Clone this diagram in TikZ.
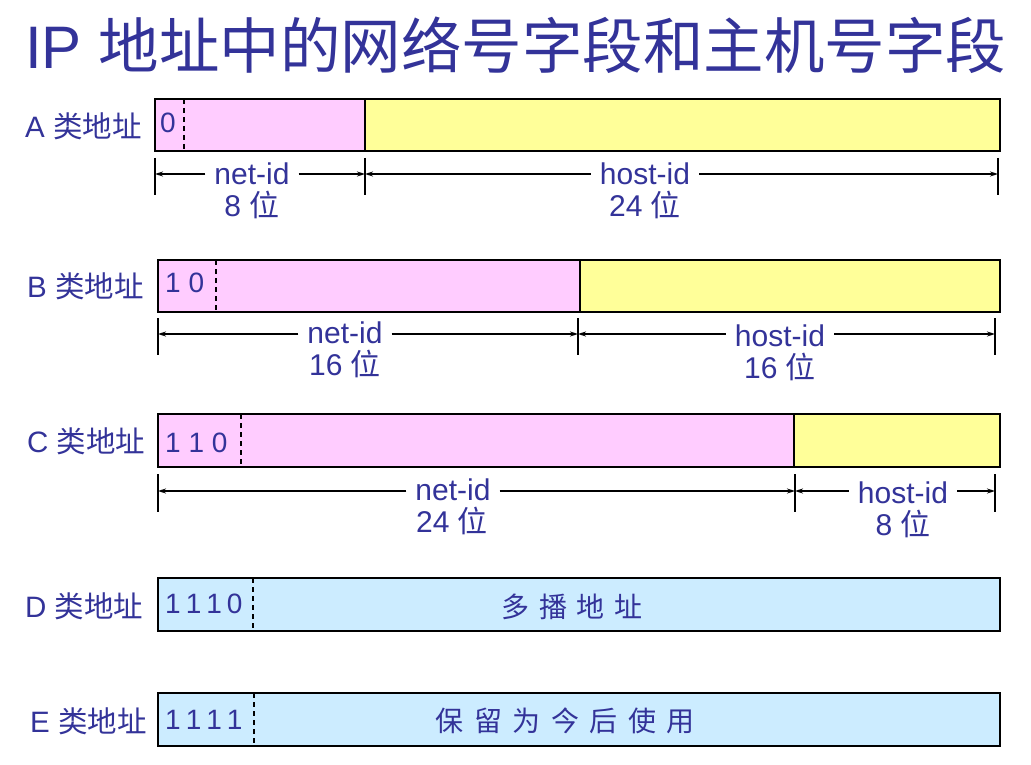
\documentclass[tikz,border=0pt]{standalone}
\usepackage{fontspec}
\setmainfont{Liberation Sans}
\newfontfamily\cjk{Noto Sans CJK SC}
\usetikzlibrary{arrows.meta}
\definecolor{txt}{HTML}{333399}
\definecolor{netc}{HTML}{FFCCFF}
\definecolor{hostc}{HTML}{FFFF99}
\definecolor{mcc}{HTML}{CCECFF}
\begin{document}
\begin{tikzpicture}[x=1pt,y=-1pt,
  lbl/.style={text=txt,font=\fontsize{29.5}{30}\selectfont,inner sep=0pt,anchor=base west},
  bits/.style={text=txt,font=\fontsize{28}{28}\selectfont,inner sep=0pt,anchor=base west},
  dimtxt/.style={text=txt,font=\fontsize{30}{30}\selectfont,inner xsep=9pt,inner ysep=0pt,anchor=base},
  field/.style={draw=black,line width=2.5pt},
  sepline/.style={draw=black,line width=1.5pt},
  dsh/.style={draw=black,line width=1.8pt,dash pattern=on 5pt off 4pt},
  tickline/.style={draw=black,line width=1.8pt},
  dim/.style={draw=black,line width=1.4pt,-{Stealth[length=8pt,width=5pt]}}
]
\useasboundingbox (0,0) rectangle (1031,765);
\fill[white] (0,0) rectangle (1031,765);

% title
\node[anchor=base west,text=txt,inner sep=0pt,font=\fontsize{60}{60}\selectfont] (title) at (25,69)
  {IP {\cjk\fontsize{60.5}{60.5}\selectfont 地址中的网络号字段和主机号字段}};

% ---------- A ----------
\fill[netc] (155,99) rectangle (365,151);
\fill[hostc] (365,99) rectangle (1000,151);
\draw[sepline] (365,99) -- (365,151);
\draw[dsh] (184,99) -- (184,151);
\draw[field] (155,99) rectangle (1000,151);
\node[lbl] (Alab) at (25,138) {A {\cjk 类地址}};
\node[bits] (Abits) at (160,133) {0};
\coordinate (A0) at (155,174);
\coordinate (A1) at (365,174);
\coordinate (A2) at (998,174);
\draw[tickline] (155,158) -- (155,195);
\draw[tickline] (365,158) -- (365,195);
\draw[tickline] (998,158) -- (998,195);
\node[dimtxt] (Anet) at (252,185) {net-id};
\node[dimtxt] (Anetb) at (252,216) {8 {\cjk 位}};
\node[dimtxt] (Ahost) at (645,185) {host-id};
\node[dimtxt] (Ahostb) at (645,216) {24 {\cjk 位}};
\draw[dim] (Anet.west |- A0) -- (A0);
\draw[dim] (Anet.east |- A1) -- (A1);
\draw[dim] (Ahost.west |- A1) -- (A1);
\draw[dim] (Ahost.east |- A2) -- (A2);

% ---------- B ----------
\fill[netc] (158,260) rectangle (580,312);
\fill[hostc] (580,260) rectangle (1000,312);
\draw[sepline] (580,260) -- (580,312);
\draw[dsh] (216,260) -- (216,312);
\draw[field] (158,260) rectangle (1000,312);
\node[lbl] (Blab) at (27,297) {B {\cjk 类地址}};
\node[bits] (Bbits) at (165,292) {1 0};
\coordinate (B0) at (158,334);
\coordinate (B1) at (578,334);
\coordinate (B2) at (995,334);
\draw[tickline] (158,318) -- (158,355);
\draw[tickline] (578,318) -- (578,355);
\draw[tickline] (995,318) -- (995,355);
\node[dimtxt] (Bnet) at (345,343) {net-id};
\node[dimtxt] (Bnetb) at (345,375) {16 {\cjk 位}};
\node[dimtxt] (Bhost) at (780,346) {host-id};
\node[dimtxt] (Bhostb) at (780,378) {16 {\cjk 位}};
\draw[dim] (Bnet.west |- B0) -- (B0);
\draw[dim] (Bnet.east |- B1) -- (B1);
\draw[dim] (Bhost.west |- B1) -- (B1);
\draw[dim] (Bhost.east |- B2) -- (B2);

% ---------- C ----------
\fill[netc] (158,414) rectangle (794,467);
\fill[hostc] (794,414) rectangle (1000,467);
\draw[sepline] (794,414) -- (794,467);
\draw[dsh] (241,414) -- (241,467);
\draw[field] (158,414) rectangle (1000,467);
\node[lbl] (Clab) at (27,452) {C {\cjk 类地址}};
\node[bits] (Cbits) at (165,452) {1 1 0};
\coordinate (C0) at (158,491);
\coordinate (C1) at (795,491);
\coordinate (C2) at (995,491);
\draw[tickline] (158,474) -- (158,512);
\draw[tickline] (795,474) -- (795,512);
\draw[tickline] (995,474) -- (995,512);
\node[dimtxt] (Cnet) at (453,500) {net-id};
\node[dimtxt] (Cnetb) at (452,532) {24 {\cjk 位}};
\node[dimtxt] (Chost) at (903,503) {host-id};
\node[dimtxt] (Chostb) at (903,535) {8 {\cjk 位}};
\draw[dim] (Cnet.west |- C0) -- (C0);
\draw[dim] (Cnet.east |- C1) -- (C1);
\draw[dim] (Chost.west |- C1) -- (C1);
\draw[dim] (Chost.east |- C2) -- (C2);

% ---------- D ----------
\fill[mcc] (158,578) rectangle (1000,631);
\draw[dsh] (253,578) -- (253,631);
\draw[field] (158,578) rectangle (1000,631);
\node[lbl] (Dlab) at (25,617) {D {\cjk 类地址}};
\node[bits] (Dbits) at (165,613) {1\hspace{5pt}1\hspace{5pt}1\hspace{5pt}0};
\node[dimtxt,font=\fontsize{28}{28}\selectfont,inner sep=0pt] (Dtxt) at (572,617) {\cjk 多\hspace{10pt}播\hspace{10pt}地\hspace{10pt}址};

% ---------- E ----------
\fill[mcc] (158,693) rectangle (1000,746);
\draw[dsh] (254,693) -- (254,746);
\draw[field] (158,693) rectangle (1000,746);
\node[lbl] (Elab) at (30,732) {E {\cjk 类地址}};
\node[bits] (Ebits) at (165,729) {1\hspace{5pt}1\hspace{5pt}1\hspace{5pt}1};
\node[dimtxt,font=\fontsize{28}{28}\selectfont,inner sep=0pt] (Etxt) at (565,731) {\cjk 保\hspace{10.5pt}留\hspace{10.5pt}为\hspace{10.5pt}今\hspace{10.5pt}后\hspace{10.5pt}使\hspace{10.5pt}用};
\end{tikzpicture}
\end{document}
